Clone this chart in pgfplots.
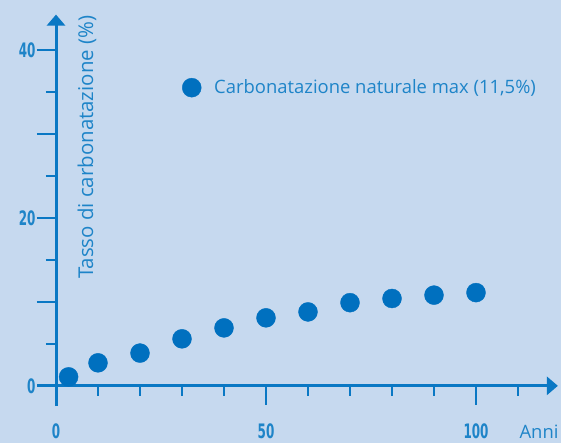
\documentclass[border=0pt]{standalone}
\usepackage{pgfplots}
\pgfplotsset{compat=1.18}
\usetikzlibrary{arrows.meta}
\usepackage{fontspec}
\setmainfont{Open Sans}
\newfontfamily\tickfont[FakeStretch=0.6]{DejaVu Sans}
\definecolor{bg}{HTML}{C6D9EF}
\definecolor{axc}{HTML}{0A78C4}
\definecolor{mk}{HTML}{0070BF}
\definecolor{tx}{HTML}{1E84C8}
\begin{document}
\begin{tikzpicture}
\fill[bg] (0,0) rectangle (561bp,443bp);
\begin{axis}[
  at={(37.1bp,37bp)}, anchor=south west,
  scale only axis, width=520.8bp, height=391.4bp,
  axis lines=middle,
  xmin=-4.5, xmax=119.5, ymin=-2.4, ymax=44.2,
  axis line style={axc, line width=3bp, -{Triangle[width=18bp,length=11bp]}},
  clip=false,
  hide obscured x ticks=false, hide obscured y ticks=false,
  xtick={0,50,100}, xticklabels={0,50,100},
  minor xtick={10,20,30,40,60,70,80,90,110},
  ytick={0,10,20,30,40}, yticklabels={0,,20,,40},
  minor ytick={5,15,25,35},
  tick align=outside,
  major tick length=19bp, minor tick length=10bp,
  tick style={axc, line width=2.5bp},
  ticklabel style={font=\tickfont\bfseries\fontsize{20}{20}\selectfont, text=tx},
  xticklabel style={anchor=center, yshift=-26.5bp},
  yticklabel style={anchor=east, xshift=2bp},
  ylabel={Tasso di carbonatazione (\%)},
  ylabel style={at={(axis cs:7.4,28.4)}, anchor=center, rotate=90, text=tx, font=\fontsize{20.5}{20.5}\selectfont},
  legend style={at={(axis cs:29.3,35.5)}, anchor=west, draw=none, fill=none, text=tx,
    font=\fontsize{18.5}{18.5}\selectfont},
]
\addplot[only marks, mark=*, mark size=9.5bp, color=mk] coordinates {
 (3,1.07) (10,2.74) (20,3.9) (30,5.6) (40,6.9) (50,8.1) (60,8.8) (70,9.9) (80,10.4) (90,10.8) (100,11.1)
};
\addlegendentry{\hspace{11bp}Carbonatazione naturale max (11,5\%)}
\node[text=tx, font=\fontsize{18.5}{18.5}\selectfont, anchor=base, inner sep=0pt] at (axis cs:115,-6.25) {Anni};
\end{axis}
\pgfresetboundingbox
\useasboundingbox (0,0) rectangle (561bp,443bp);
\end{tikzpicture}
\end{document}
